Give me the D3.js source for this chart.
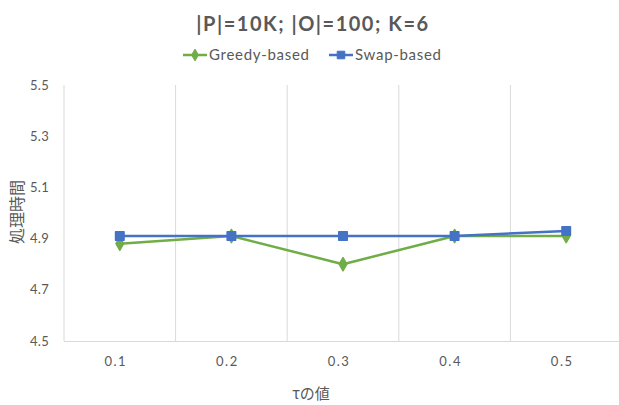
<!DOCTYPE html>
<html>
<head>
<meta charset="utf-8">
<script src="https://cdn.jsdelivr.net/npm/d3@7"></script>
<style>
  html, body { margin: 0; padding: 0; background: #fff; }
  svg { display: block; }
  text { font-family: Lato, "Noto Sans", "Noto Sans CJK JP", sans-serif; fill: #595959; }
</style>
</head>
<body>
<svg id="chart" width="619" height="405"></svg>
<script>
// Categories (τ values) and series
const categories = ["0.1", "0.2", "0.3", "0.4", "0.5"];
const greedyValues = [4.88, 4.91, 4.80, 4.91, 4.91];
const swapValues = [4.91, 4.91, 4.91, 4.91, 4.93];
const yTicks = [4.5, 4.7, 4.9, 5.1, 5.3, 5.5];
const seriesNames = ["Greedy-based", "Swap-based"];
const titleText = "|P|=10K; |O|=100; K=6";
const yLabel = "処理時間";
const xLabel = "τの値";

const svg = d3.select("#chart");
const margin = { left: 64, right: 622, top: 85, bottom: 341 };

const x = d3.scaleBand().domain(categories).range([margin.left, margin.right]).padding(0);
const y = d3.scaleLinear().domain([4.5, 5.5]).range([margin.bottom, margin.top]);

// Vertical gridlines at category boundaries
const bounds = categories.map(c => x(c)).concat([x(categories[categories.length - 1]) + x.bandwidth()]);
svg.append("g").selectAll("line").data(bounds).join("line")
  .attr("x1", d => d).attr("x2", d => d)
  .attr("y1", margin.top).attr("y2", margin.bottom)
  .attr("stroke", "#d9d9d9").attr("stroke-width", 1);

// Bottom axis line
svg.append("line")
  .attr("x1", margin.left).attr("x2", margin.right)
  .attr("y1", margin.bottom + 0.5).attr("y2", margin.bottom + 0.5)
  .attr("stroke", "#d9d9d9").attr("stroke-width", 1);

// Y axis tick labels
const yAxis = d3.axisLeft(y).tickValues(yTicks).tickFormat(d3.format(".1f")).tickSize(0).tickPadding(15);
const yg = svg.append("g").attr("transform", `translate(${margin.left},0)`).call(yAxis);
yg.select(".domain").remove();
yg.selectAll("text").style("font-size", "13px").style("letter-spacing", "0.3px").attr("fill", "#595959");

// X axis tick labels
const xAxis = d3.axisBottom(x).tickSize(0).tickPadding(16);
const xg = svg.append("g").attr("transform", `translate(0,${margin.bottom})`).call(xAxis);
xg.select(".domain").remove();
xg.selectAll("text").style("font-size", "13px").style("letter-spacing", "1.5px").attr("dx", "-4").attr("fill", "#595959");

const cx = d => x(d) + x.bandwidth() / 2;

const series = [
  { name: seriesNames[0], values: greedyValues, color: "#70ad47", symbol: d3.symbolDiamond, size: 50 },
  { name: seriesNames[1], values: swapValues, color: "#4472c4", symbol: d3.symbolSquare, size: 72 }
];

const line = d3.line().x(d => cx(d.c)).y(d => y(d.v));

series.forEach(s => {
  const pts = categories.map((c, i) => ({ c, v: s.values[i] }));
  svg.append("path").datum(pts)
    .attr("d", line)
    .attr("fill", "none")
    .attr("stroke", s.color)
    .attr("stroke-width", 2.5)
    .attr("stroke-linejoin", "round");
  svg.append("g").selectAll("path").data(pts).join("path")
    .attr("transform", d => `translate(${cx(d.c)},${y(d.v)})`)
    .attr("d", d3.symbol().type(s.symbol).size(s.size))
    .attr("fill", s.color)
    .attr("stroke", s.color)
    .attr("stroke-width", 1.5)
    .attr("stroke-linejoin", "round");
});

// Title
svg.append("text")
  .attr("x", 313).attr("y", 31)
  .attr("text-anchor", "middle")
  .style("font-size", "20px").style("font-weight", "bold").style("letter-spacing", "1.5px")
  .text(titleText);

// Legend
const legendItems = [
  { s: series[0], x: 183 },
  { s: series[1], x: 329 }
];
legendItems.forEach(({ s, x: lx }) => {
  const g = svg.append("g").attr("transform", `translate(${lx},55)`);
  g.append("line").attr("x1", 0).attr("x2", 24).attr("y1", 0).attr("y2", 0)
    .attr("stroke", s.color).attr("stroke-width", 2.5);
  g.append("path").attr("transform", "translate(12,0)")
    .attr("d", d3.symbol().type(s.symbol).size(s.size * 0.8))
    .attr("fill", s.color).attr("stroke", s.color).attr("stroke-width", 1);
  g.append("text").attr("x", 26).attr("y", 0).attr("dy", "0.35em")
    .style("font-size", "15px").style("letter-spacing", "0.7px")
    .text(s.name);
});

// Axis titles
svg.append("text")
  .attr("transform", "translate(17,212) rotate(-90)")
  .attr("text-anchor", "middle").attr("dy", "0.35em")
  .style("font-size", "16px")
  .style("font-family", "'Noto Sans CJK JP', sans-serif")
  .text(yLabel);

svg.append("text")
  .attr("x", 311).attr("y", 394)
  .attr("text-anchor", "middle").attr("dy", "0.35em")
  .style("font-size", "15px")
  .style("font-family", "'Noto Sans CJK JP', sans-serif")
  .text(xLabel);
</script>
</body>
</html>
